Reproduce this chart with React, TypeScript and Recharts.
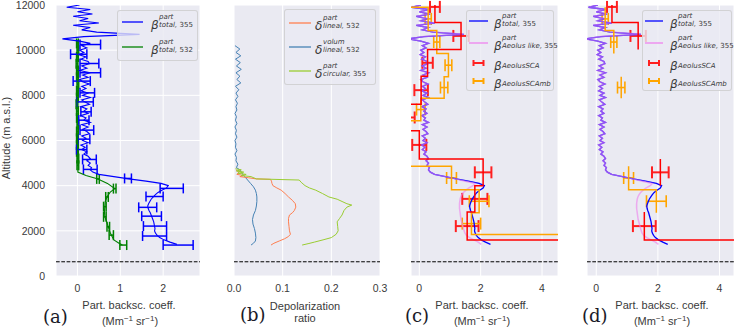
import {
  ScatterChart,
  Scatter,
  XAxis,
  YAxis,
  CartesianGrid,
  ErrorBar,
  ReferenceLine,
} from "recharts";

// altitude grid (m a.s.l.)
const ALT_TICKS = [0, 2000, 4000, 6000, 8000, 10000, 12000];
const GROUND = 630;

// beta total 355, lidar (Mm-1 sr-1), upper noisy part
const hiAlt = [
  12000, 11900, 11800, 11700, 11600, 11500, 11400, 11300, 11200, 11100,
  11000, 10900, 10800, 10700, 10600, 10500, 10400, 10300, 10200, 10100,
  10000, 9900, 9800, 9700, 9600, 9500, 9400, 9300, 9200, 9100,
  9000, 8900, 8800, 8700, 8600, 8500, 8400, 8300, 8200, 8100,
  8000, 7900, 7800, 7700, 7600, 7500, 7400, 7300, 7200, 7100,
  7000, 6900, 6800, 6700, 6600, 6500, 6400, 6300, 6200, 6100,
  6000, 5900, 5800, 5700, 5600, 5500, 5400, 5300, 5200, 5100,
  5000, 4900, 4800, 4700, 4600,
];
const b355Hi = [
  0.05, -0.25, 0.3, 0.0, 0.35, -0.1, 0.25, 0.05, 0.5, -0.1,
  0.3, 0.1, 0.45, 1.45, 0.15, -0.35, 0.05, 0.3, 0.1, 0.22,
  0.05, 0.15, 0.03, 0.2, 0.08, 0.25, 0.28, 0.1, 0.22, 0.05,
  0.3, 0.12, 0.25, 0.05, 0.12, 0.28, 0.1, 0.2, 0.08, 0.25,
  0.12, 0.3, 0.1, 0.18, 0.28, 0.08, 0.22, 0.15, 0.25, 0.08,
  0.2, 0.15, 0.3, 0.1, 0.25, 0.12, 0.22, 0.28, 0.1, 0.2,
  0.12, 0.25, 0.08, 0.18, 0.1, 0.22, 0.15, 0.25, 0.3, 0.22,
  0.3, 0.25, 0.33, 0.3, 0.36,
];
// dust layer part
const loAlt = [
  4500, 4400, 4300, 4200, 4100, 4000, 3900, 3800, 3700, 3600,
  3500, 3400, 3300, 3200, 3100, 3000, 2900, 2800, 2700, 2600,
  2500, 2400, 2300, 2200, 2100, 2000, 1900, 1800, 1700, 1600,
  1500, 1400,
];
const b355Lo = [
  0.5, 0.85, 1.2, 1.6, 1.95, 2.12, 2.08, 1.97, 1.88, 1.82,
  1.77, 1.72, 1.69, 1.66, 1.64, 1.65, 1.67, 1.7, 1.72, 1.74,
  1.76, 1.78, 1.79, 1.8, 1.81, 1.8, 1.82, 1.86, 1.92, 2.02,
  2.16, 2.32,
];
const aeolusLikeLo = [
  0.5, 0.85, 1.18, 1.5, 1.82, 1.75, 1.62, 1.52, 1.44, 1.39,
  1.35, 1.33, 1.32, 1.31, 1.31, 1.31, 1.32, 1.33, 1.34, 1.35,
  1.36, 1.38, 1.4, 1.42, 1.44, 1.46, 1.49, 1.54, 1.64, 1.78,
  1.92, 2.02,
];

const b355ErrAlt = [10250, 9820, 9410, 9000, 8630, 8110, 7710, 7270, 6900, 6460, 6060, 5600, 5160, 4720, 4320, 3880, 3520, 3040, 2650, 2210, 1770, 1370];
const b355ErrVal = [0.3, 0.03, 0.28, 0.3, 0.1, 0.23, 0.18, 0.2, 0.15, 0.22, 0.15, 0.1, 0.28, 0.3, 1.18, 2.2, 1.8, 1.64, 1.73, 1.81, 1.8, 2.35];
const b355Err = [0.24, 0.19, 0.22, 0.24, 0.2, 0.17, 0.19, 0.12, 0.12, 0.16, 0.14, 0.12, 0.16, 0.16, 0.08, 0.27, 0.2, 0.21, 0.23, 0.27, 0.28, 0.35];

// beta total 532
const g532Alt = [10450, 10000, 9500, 9000, 8500, 8000, 7500, 7000, 6500, 6000, 5500, 5000, 4600, 4450, 4300, 4100, 3870, 3700, 3500, 3300, 3070, 2850, 2620, 2400, 2180, 2000, 1810, 1600, 1450, 1370];
const g532 = [0, 0.01, -0.01, 0, 0.01, 0, -0.01, 0, 0.01, 0, 0, 0.01, 0.01, 0.2, 0.48, 0.7, 0.87, 0.76, 0.69, 0.65, 0.64, 0.63, 0.64, 0.68, 0.72, 0.75, 0.79, 0.85, 0.97, 1.05];
const g532ErrAlt = [10300, 10000, 9700, 9400, 9100, 8800, 8500, 8200, 7900, 7600, 7300, 7000, 6700, 6400, 6100, 5800, 5500, 5200, 4900, 4300, 3870, 3500, 3070, 2620, 2180, 1810, 1370];
const g532ErrVal = [0, 0.01, 0, -0.01, 0, 0, 0.01, 0, 0, -0.01, 0, 0, 0.01, 0, 0, 0, 0, 0.01, 0.01, 0.48, 0.87, 0.69, 0.64, 0.64, 0.72, 0.79, 1.07];
const g532Err = [0.02, 0.02, 0.02, 0.02, 0.02, 0.02, 0.02, 0.02, 0.02, 0.02, 0.02, 0.02, 0.02, 0.02, 0.02, 0.02, 0.02, 0.02, 0.02, 0.03, 0.03, 0.03, 0.03, 0.03, 0.03, 0.05, 0.08];

// depolarization ratios
const volAlt = [10200, 10050, 9900, 9750, 9600, 9450, 9300, 9150, 9000, 8850, 8700, 8550, 8400, 8250, 8100, 7950, 7800, 7650, 7500, 7350, 7200, 7050, 6900, 6750, 6600, 6450, 6300, 6150, 6000, 5850, 5700, 5550, 5400, 5250, 5100, 4950, 4800, 4700, 4600, 4500, 4400, 4250, 4100, 3950, 3800, 3650, 3500, 3300, 3100, 2900, 2700, 2500, 2300, 2100, 1900, 1700, 1550, 1450, 1370];
const vol532 = [0.002, 0.012, 0.004, 0.014, 0.003, 0.013, 0.005, 0.015, 0.004, 0.012, 0.006, 0.014, 0.003, 0.01, 0.004, 0.008, 0.003, 0.007, 0.004, 0.006, 0.002, 0.005, 0.003, 0.006, 0.002, 0.005, 0.003, 0.006, 0.002, 0.004, 0.003, 0.006, 0.002, 0.005, 0.004, 0.008, 0.005, 0.012, 0.015, 0.018, 0.022, 0.028, 0.034, 0.04, 0.044, 0.046, 0.047, 0.047, 0.046, 0.044, 0.04, 0.038, 0.039, 0.042, 0.044, 0.045, 0.044, 0.04, 0.035];
const partAlt = [4700, 4600, 4500, 4450, 4400, 4350, 4300, 4280, 4200, 4100, 4000, 3900, 3800, 3650, 3500, 3350, 3200, 3050, 2900, 2800, 2700, 2550, 2400, 2200, 2000, 1850, 1750, 1650, 1550, 1450, 1370];
const part532 = [0.004, 0.01, 0.006, 0.02, 0.012, 0.03, 0.045, 0.075, 0.077, 0.078, 0.08, 0.088, 0.097, 0.105, 0.112, 0.12, 0.126, 0.127, 0.124, 0.12, 0.114, 0.112, 0.112, 0.113, 0.114, 0.116, 0.112, 0.104, 0.093, 0.082, 0.076];
const circAlt = [4750, 4700, 4650, 4600, 4550, 4500, 4450, 4400, 4300, 4250, 4150, 4000, 3900, 3800, 3650, 3500, 3400, 3300, 3200, 3140, 3050, 2900, 2700, 2550, 2400, 2200, 2000, 1850, 1700, 1600, 1500, 1440, 1370];
const circ355 = [0.003, 0.015, 0.005, 0.02, 0.008, 0.025, 0.015, 0.035, 0.046, 0.134, 0.138, 0.146, 0.155, 0.168, 0.182, 0.195, 0.212, 0.222, 0.232, 0.242, 0.232, 0.226, 0.222, 0.217, 0.212, 0.213, 0.214, 0.21, 0.2, 0.183, 0.165, 0.154, 0.14];

// Aeolus SCA range bins
const scaTop = [12600, 11230, 10030, 8850, 7610, 6430, 5180, 4000, 2830, 1590];
const scaBottom = [11230, 10030, 8850, 7610, 6430, 5180, 4000, 2830, 1590, 800];
const scaVal = [0.51, 1.36, 0.27, 0.06, -0.4, 0.0, 2.08, 1.81, 1.56, 9];
const scaErr = [0.16, 0.25, 0.17, 0.22, 0.25, 0.23, 0.27, 0.41, 0.37, null];
const scaKeptD = [0, 1, 6, 8, 9];

// Aeolus SCA mid-bin
const ambTop = [13000, 11900, 10870, 9850, 8820, 7870, 6870, 4860, 3820, 2800, 1840];
const ambBottom = [11900, 10870, 9850, 8820, 7870, 6870, 4860, 3820, 2800, 1840, 1000];
const ambVal = [-0.5, 0.29, 0.57, 0.95, 0.81, 0.05, -0.6, 1.05, 1.95, 1.7, 8];
const ambErr = [null, 0.1, 0.1, 0.11, 0.12, 0.14, null, 0.16, 0.32, 0.3, null];
const ambKeptD = [1, 2, 4, 7, 8];

const BG = "#EAEAF2";
const TXT = "#3a3a3a";
const SANS = '"Liberation Sans", Arial, sans-serif';
const MATH = '"DejaVu Sans", sans-serif';
const PAD = 14;
const PLOT_TOP = 5;
const PLOT_BOTTOM = 276;

type P = { x: number; y: number; e?: number };

const profile = (alts: number[], vals: number[]): P[] =>
  alts.map((y, i) => ({ x: vals[i], y }));
const withErr = (alts: number[], vals: number[], errs: number[]): P[] =>
  alts.map((y, i) => ({ x: vals[i], y, e: errs[i] }));

const b355 = profile([...hiAlt, ...loAlt], [...b355Hi, ...b355Lo]);
const aeolusLike = profile([...hiAlt, ...loAlt], [...b355Hi, ...aeolusLikeLo]);

function stepSegments(idx: number[], top: number[], bottom: number[], val: number[]) {
  const segs: P[][] = [];
  let cur: P[] = [];
  idx.forEach((i, k) => {
    if (k > 0 && !(idx[k - 1] === i - 1 && bottom[i - 1] === top[i])) {
      segs.push(cur);
      cur = [];
    }
    cur.push({ x: val[i], y: top[i] }, { x: val[i], y: bottom[i] });
  });
  segs.push(cur);
  return segs;
}

function binErrors(idx: number[], top: number[], bottom: number[], val: number[], err: (number | null)[]) {
  return idx
    .filter((i) => err[i] != null)
    .map((i) => ({ x: val[i], y: (top[i] + bottom[i]) / 2, e: err[i] as number }));
}

const allIdx = (a: number[]) => a.map((_, i) => i);

const NoDot = () => null;

function lineSeries(key: string, data: P[], stroke: string, strokeWidth = 1, strokeOpacity = 1) {
  return (
    <Scatter
      key={key}
      data={data}
      shape={NoDot}
      line={{ stroke, strokeWidth, strokeOpacity }}
      lineType="joint"
      isAnimationActive={false}
    />
  );
}

function errSeries(key: string, data: P[], stroke: string, strokeWidth = 1.5, cap = 5) {
  return (
    <Scatter key={key} data={data} shape={NoDot} isAnimationActive={false}>
      <ErrorBar dataKey="e" direction="x" stroke={stroke} strokeWidth={strokeWidth} width={cap} />
    </Scatter>
  );
}

function aeolusSeries(p: string, scaIdx: number[], ambIdx: number[]) {
  const out = [
    lineSeries(p + "tot", b355, "#0000FF", 1.3),
    lineSeries(p + "like", aeolusLike, "#EE82EE", 1.5, 0.62),
  ];
  stepSegments(ambIdx, ambTop, ambBottom, ambVal).forEach((s, i) =>
    out.push(lineSeries(p + "amb" + i, s, "#FFA500", 1.5))
  );
  stepSegments(scaIdx, scaTop, scaBottom, scaVal).forEach((s, i) =>
    out.push(lineSeries(p + "sca" + i, s, "#FF0000", 1.5))
  );
  out.push(errSeries(p + "scaE", binErrors(scaIdx, scaTop, scaBottom, scaVal, scaErr), "#FF2020", 2, 6));
  out.push(errSeries(p + "ambE", binErrors(ambIdx, ambTop, ambBottom, ambVal, ambErr), "#FFA500", 1.6, 6));
  return out;
}

type PanelProps = {
  left: number;
  plotW: number;
  yW?: number;
  domain: [number, number];
  ticks: number[];
  fmt?: (v: number) => string;
  children: React.ReactNode;
};

function Panel({ left, plotW, yW = 0, domain, ticks, fmt, children }: PanelProps) {
  const padL = yW ? 0 : PAD;
  const w = plotW + yW + padL + PAD;
  const x0 = padL + yW;
  const x1 = x0 + plotW;
  // keep error bars inside the plot area, tick labels stay visible below it
  const clip = `polygon(${yW ? 0 : x0}px 0, ${x1}px 0, ${x1}px ${PLOT_BOTTOM}px, ${w}px ${PLOT_BOTTOM}px, ${w}px 329px, 0 329px, 0 ${PLOT_BOTTOM}px, ${yW ? 0 : x0}px ${PLOT_BOTTOM}px)`;
  return (
    <div style={{ position: "absolute", left: left - padL, top: 0, clipPath: clip }}>
      <ScatterChart
        width={w}
        height={329}
        margin={{ top: PLOT_TOP, right: PAD, bottom: 329 - PLOT_BOTTOM - 20, left: padL }}
      >
        <CartesianGrid fill={BG} stroke="#ffffff" strokeWidth={1} />
        <XAxis
          type="number"
          dataKey="x"
          domain={domain}
          ticks={ticks}
          interval={0}
          allowDataOverflow
          axisLine={false}
          tickLine={false}
          tickSize={0}
          tickMargin={9}
          height={20}
          tickFormatter={fmt}
          tick={{ fill: TXT, fontSize: 10.5, fontFamily: SANS }}
        />
        <YAxis
          type="number"
          dataKey="y"
          domain={[0, 12000]}
          ticks={ALT_TICKS}
          interval={0}
          allowDataOverflow
          width={yW}
          axisLine={false}
          tickLine={false}
          tickSize={0}
          tickMargin={11}
          tick={yW ? { fill: TXT, fontSize: 10.5, fontFamily: SANS } : false}
        />
        <ReferenceLine y={GROUND} stroke="#000" strokeWidth={1} strokeDasharray="3.7 1.6" />
        {children}
      </ScatterChart>
    </div>
  );
}

type Item = {
  kind: "line" | "err";
  color: string;
  sym: string;
  sup?: string;
  sub: string;
  num?: string;
  cy: number;
};

function LegendBox({ left, top, width, height, lineX, lineW, textX, items }: {
  left: number; top: number; width: number; height: number;
  lineX: number; lineW: number; textX: number; items: Item[];
}) {
  return (
    <>
      <div
        style={{
          position: "absolute", left, top, width, height,
          background: "rgba(234,234,242,0.8)",
          border: "1px solid rgba(204,204,204,0.8)",
          borderRadius: 3, boxSizing: "border-box",
        }}
      />
      {items.map((it, i) => (
        <div key={i}>
          <svg style={{ position: "absolute", left: lineX, top: it.cy - 5 }} width={lineW} height={10}>
            {it.kind === "line" ? (
              <line x1={0} x2={lineW} y1={5} y2={5} stroke={it.color} strokeWidth={1.3} />
            ) : (
              <g stroke={it.color} strokeWidth={2}>
                <line x1={lineW / 2 - 5} x2={lineW / 2 + 5} y1={5} y2={5} />
                <line x1={lineW / 2 - 5} x2={lineW / 2 - 5} y1={2} y2={8} />
                <line x1={lineW / 2 + 5} x2={lineW / 2 + 5} y1={2} y2={8} />
              </g>
            )}
          </svg>
          <div style={{ position: "absolute", left: textX, top: it.cy - 8, fontFamily: MATH, color: TXT, whiteSpace: "nowrap" }}>
            <span style={{ fontStyle: "italic", fontSize: 12, lineHeight: "16px" }}>{it.sym}</span>
            {it.sup && (
              <span style={{ position: "absolute", left: 8, top: -1, fontSize: 7, fontStyle: "italic", lineHeight: "8px" }}>
                {it.sup}
              </span>
            )}
            <span style={{ position: "absolute", left: 8, top: 7, fontSize: 7, fontStyle: "italic", lineHeight: "8px" }}>
              {it.sub}
              <span style={{ fontStyle: "normal" }}>{it.num}</span>
            </span>
          </div>
        </div>
      ))}
    </>
  );
}

function Centered({ cx, cy, children, size = 11 }: { cx: number; cy: number; children: React.ReactNode; size?: number }) {
  return (
    <div
      style={{
        position: "absolute", left: cx - 80, width: 160, top: cy - 7, height: 14,
        textAlign: "center", fontFamily: SANS, fontSize: size, color: TXT, lineHeight: "14px", whiteSpace: "nowrap",
      }}
    >
      {children}
    </div>
  );
}

function Tag({ x, cy, text }: { x: number; cy: number; text: string }) {
  return (
    <div style={{ position: "absolute", left: x, top: cy - 11, fontFamily: '"DejaVu Serif", serif', fontSize: 18, lineHeight: "22px", color: "#1a1a28" }}>
      {text}
    </div>
  );
}

const supStyle = { fontSize: 8, position: "relative" as const, top: -4 };
const unit = (
  <>
    (Mm<span style={supStyle}>−1</span> sr<span style={supStyle}>−1</span>)
  </>
);

const betaItems = (y0: number, y1: number): Item[] => [
  { kind: "line", color: "#0000FF", sym: "β", sup: "part", sub: "total, ", num: "355", cy: y0 },
  { kind: "line", color: "#EE82EE", sym: "β", sup: "part", sub: "Aeolus like, ", num: "355", cy: y1 },
];

export default function App() {
  const errIdxAmb = allIdx(ambTop);
  const errIdxSca = allIdx(scaTop);
  return (
    <div style={{ position: "absolute", left: 0, top: 0, width: 734, height: 329, overflow: "hidden", background: "#fff" }}>
      <Panel left={0} plotW={144} yW={56} domain={[-0.5, 2.86]} ticks={[0, 1, 2]}>
        {[
          lineSeries("b532", profile(g532Alt, g532), "#008000", 1.1),
          errSeries("b532e", withErr(g532ErrAlt, g532ErrVal, g532Err), "#008000", 1.5, 5),
          lineSeries("b355", b355, "#0000FF", 1.1),
          errSeries("b355e", withErr(b355ErrAlt, b355ErrVal, b355Err), "#0000FF", 1.5, 5),
        ]}
      </Panel>
      <Panel left={234} plotW={146} domain={[0, 0.3]} ticks={[0, 0.1, 0.2, 0.3]} fmt={(v) => v.toFixed(1)}>
        {[
          lineSeries("vol", profile(volAlt, vol532), "#4682B4", 1),
          lineSeries("part", profile(partAlt, part532), "#FF7F50", 1),
          lineSeries("circ", profile(circAlt, circ355), "#9ACD32", 1),
        ]}
      </Panel>
      <Panel left={411} plotW={147} domain={[-0.27, 4.52]} ticks={[0, 2, 4]}>
        {aeolusSeries("c", errIdxSca, errIdxAmb)}
      </Panel>
      <Panel left={587} plotW={147} domain={[-0.3, 4.47]} ticks={[0, 2, 4]}>
        {aeolusSeries("d", scaKeptD, ambKeptD)}
      </Panel>

      <div
        style={{
          position: "absolute", left: 6 - 60, top: 138 - 8, width: 120, height: 16,
          transform: "rotate(-90deg)", textAlign: "center", fontFamily: SANS, fontSize: 11,
          color: TXT, lineHeight: "16px", whiteSpace: "nowrap",
        }}
      >
        Altitude (m a.s.l.)
      </div>

      <Tag x={43} cy={317} text="(a)" />
      <Centered cx={129} cy={305}>Part. backsc. coeff.</Centered>
      <Centered cx={130} cy={321}>{unit}</Centered>

      <Tag x={240} cy={315} text="(b)" />
      <Centered cx={305} cy={306}>Depolarization</Centered>
      <Centered cx={305} cy={318}>ratio</Centered>

      <Tag x={405} cy={316} text="(c)" />
      <Centered cx={482} cy={305}>Part. backsc. coeff.</Centered>
      <Centered cx={482} cy={321}>{unit}</Centered>

      <Tag x={582} cy={316} text="(d)" />
      <Centered cx={662} cy={305}>Part. backsc. coeff.</Centered>
      <Centered cx={662} cy={321}>{unit}</Centered>

      <LegendBox
        left={117} top={10} width={81} height={51} lineX={122} lineW={21} textX={151}
        items={[
          { kind: "line", color: "#0000FF", sym: "β", sup: "part", sub: "total, ", num: "355", cy: 22 },
          { kind: "line", color: "#008000", sym: "β", sup: "part", sub: "total, ", num: "532", cy: 47 },
        ]}
      />
      <LegendBox
        left={284} top={9} width={92} height={76} lineX={289} lineW={22} textX={315}
        items={[
          { kind: "line", color: "#FF7F50", sym: "δ", sup: "part", sub: "lineal, ", num: "532", cy: 23 },
          { kind: "line", color: "#4682B4", sym: "δ", sup: "volum", sub: "lineal, ", num: "532", cy: 47 },
          { kind: "line", color: "#9ACD32", sym: "δ", sup: "part", sub: "circular, ", num: "355", cy: 71 },
        ]}
      />
      <LegendBox
        left={466} top={10} width={88} height={81} lineX={469} lineW={19} textX={494}
        items={[
          ...betaItems(21, 43),
          { kind: "err", color: "#FF2020", sym: "β", sub: "AeolusSCA", cy: 63 },
          { kind: "err", color: "#FFA500", sym: "β", sub: "AeolusSCAmb", cy: 81 },
        ]}
      />
      <LegendBox
        left={642} top={10} width={90} height={81} lineX={645} lineW={18} textX={670}
        items={[
          ...betaItems(21, 43),
          { kind: "err", color: "#FF2020", sym: "β", sub: "AeolusSCA", cy: 63 },
          { kind: "err", color: "#FFA500", sym: "β", sub: "AeolusSCAmb", cy: 81 },
        ]}
      />
    </div>
  );
}
